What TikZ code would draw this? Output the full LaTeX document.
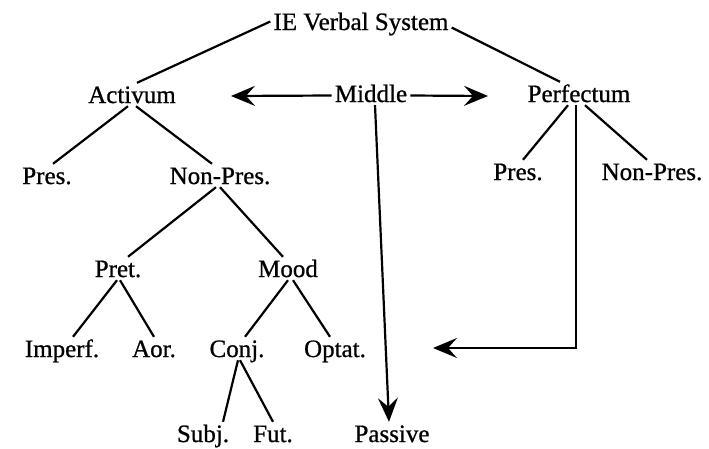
\documentclass[tikz,border=0pt]{standalone}
\usepackage{fontspec}
\setmainfont{Liberation Serif}
\newfontfamily\scanfont{Liberation Serif}[FakeBold=0.8]
\usetikzlibrary{arrows.meta}
\begin{document}
\begin{tikzpicture}[x=1pt,y=-1pt,
  lbl/.style={anchor=base, inner sep=3pt, text height=17pt, text depth=0pt, font=\scanfont\fontsize{25}{30}\selectfont},
  edge/.style={line width=2.2pt},
  arr/.style={line width=2.2pt, -{Stealth[length=24pt,width=20pt,inset=9pt]}}]
\useasboundingbox (0,0) rectangle (709,448);
% nodes
\node[lbl] (ie)   at (361,30)  {IE Verbal System};
\node[lbl] (act)  at (132,103) {Activum};
\node[lbl] (mid)  at (371,102) {Middle};
\node[lbl] (perf) at (579,102) {Perfectum};
\node[lbl] (pres1) at (47,184)  {Pres.};
\node[lbl] (np1)   at (220,184) {Non-Pres.};
\node[lbl] (pres2) at (518,180) {Pres.};
\node[lbl] (np2)   at (652,180) {Non-Pres.};
\node[lbl] (pret) at (118,277) {Pret.};
\node[lbl] (mood) at (288,277) {Mood};
\node[lbl] (imp)  at (62,357)  {Imperf.};
\node[lbl] (aor)  at (154,357) {Aor.};
\node[lbl] (conj) at (237,357) {Conj.};
\node[lbl] (opt)  at (335,357) {Optat.};
\node[lbl] (subj) at (203,442) {Subj.};
\node[lbl] (fut)  at (273,442) {Fut.};
\node[lbl] (pas)  at (392,442) {Passive};
% free arrow ends
\coordinate (ltip) at (231,96);
\coordinate (rtip) at (488,96);
\coordinate (ptip) at (433,348);
% tree edges
\draw[edge] (ie.west) -- ([xshift=5pt]act.north);
\draw[edge] ([yshift=-6pt]ie.east) -- ([xshift=-19pt]perf.north);
\draw[edge] ([xshift=-4pt]act.south) -- ([xshift=6pt]pres1.north);
\draw[edge] ([xshift=4pt]act.south) -- ([xshift=-8pt]np1.north);
\draw[edge] ([xshift=-4pt]np1.south) -- ([xshift=10pt]pret.north);
\draw[edge] (np1.south) -- ([xshift=-5pt]mood.north);
\draw[edge] ([xshift=-1pt]pret.south) -- ([xshift=11pt]imp.north);
\draw[edge] ([xshift=2pt]pret.south) -- (aor.north);
\draw[edge] (mood.south) -- ([xshift=8pt]conj.north);
\draw[edge] ([xshift=5pt]mood.south) -- ([xshift=-5pt]opt.north);
\draw[edge] ([xshift=1pt]conj.south) -- ([xshift=20pt]subj.north);
\draw[edge] ([xshift=3pt]conj.south) -- (fut.north);
\draw[edge] ([xshift=-11pt]perf.south) -- ([xshift=5pt]pres2.north);
\draw[edge] ([xshift=6pt]perf.south) -- ([xshift=-5pt]np2.north);
% arrows
\draw[arr] ([yshift=-2pt]mid.west) -- (ltip);
\draw[arr] ([yshift=-2pt]mid.east) -- (rtip);
\draw[arr] ([xshift=4pt]mid.south) -- ([xshift=-3pt]pas.north);
\draw[arr] ([xshift=-3pt]perf.south) |- (ptip);
\end{tikzpicture}
\end{document}
